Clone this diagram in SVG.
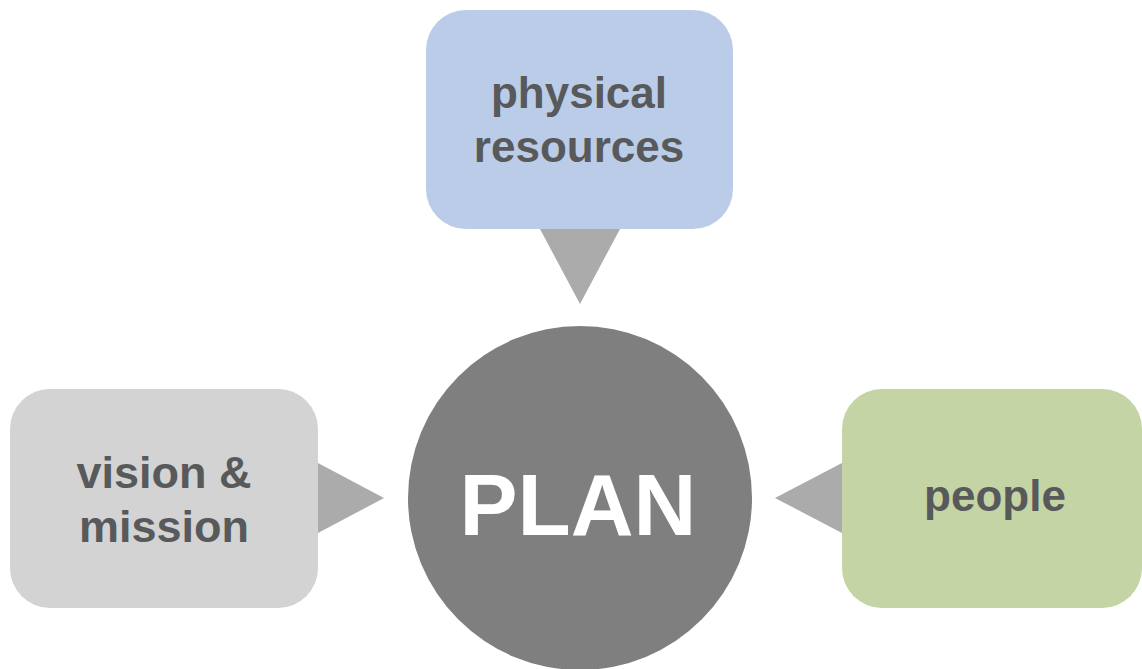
<svg xmlns="http://www.w3.org/2000/svg" width="1142" height="669" viewBox="0 0 1142 669">
<style>
.lbl{font-family:"Liberation Sans",Arial,sans-serif;font-weight:bold;font-size:44px;fill:#58595B;text-anchor:middle}
.plan{font-family:"Liberation Sans",Arial,sans-serif;font-weight:bold;font-size:87px;fill:#FFFFFF;text-anchor:middle}
.tri{fill:#ABABAB}
</style>
<rect width="1142" height="669" fill="#FFFFFF"/>
<g id="connectors">
<polygon class="tri" points="540,229 620,229 580,304"/>
<polygon class="tri" points="318,463 318,533 384,498"/>
<polygon class="tri" points="842,463 842,533 775,498"/>
</g>
<g id="node-physical">
<rect x="426" y="10" width="307" height="219" rx="40" fill="#BBCCE9"/>
<text class="lbl" x="579" y="108">physical</text>
<text class="lbl" x="579" y="162">resources</text>
</g>
<g id="node-vision">
<rect x="10" y="389" width="308" height="219" rx="40" fill="#D3D3D3"/>
<text class="lbl" x="164" y="488" style="font-size:45px">vision &amp;</text>
<text class="lbl" x="164" y="542" style="font-size:45px">mission</text>
</g>
<g id="node-people">
<rect x="842" y="389" width="300" height="219" rx="40" fill="#C4D4A4"/>
<text class="lbl" x="995" y="511">people</text>
</g>
<g id="node-plan">
<circle cx="580" cy="498" r="172" fill="#7E7F7E"/>
<text class="plan" x="578" y="535">PLAN</text>
</g>
</svg>
